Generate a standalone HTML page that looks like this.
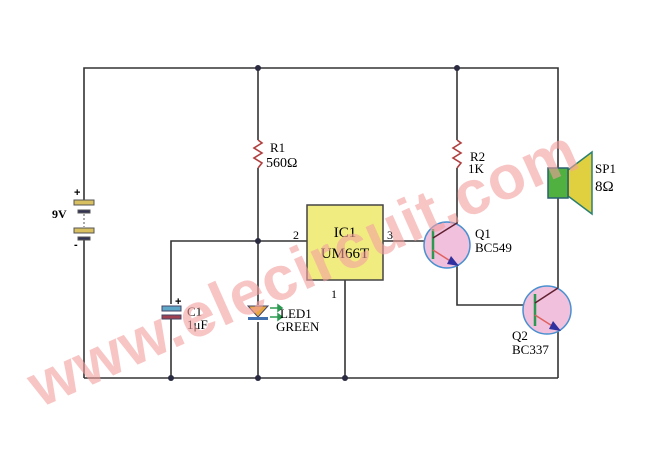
<!DOCTYPE html>
<html><head><style>
body{margin:0;background:#fff;}
svg{display:block;font-family:"Liberation Serif",serif;}
</style></head><body>
<svg width="660" height="456" viewBox="0 0 660 456" xmlns="http://www.w3.org/2000/svg">
<g stroke="#333" stroke-width="1.6" fill="none">
<polyline points="84,200 84,68 558,68 558,168"/>
<line x1="84" y1="240" x2="84" y2="378"/>
<line x1="84" y1="378" x2="558" y2="378"/>
<line x1="258" y1="68" x2="258" y2="140"/>
<line x1="258" y1="168" x2="258" y2="305"/>
<line x1="258" y1="322" x2="258" y2="378"/>
<polyline points="307,241 171,241 171,304"/>
<line x1="171" y1="318" x2="171" y2="378"/>
<line x1="345" y1="280" x2="345" y2="378"/>
<line x1="383" y1="241" x2="433" y2="241"/>
<line x1="457" y1="68" x2="457" y2="140"/>
<line x1="457" y1="168" x2="457" y2="228"/>
<polyline points="457,258 457,305 537,305"/>
<line x1="558" y1="198" x2="558" y2="292"/>
<line x1="558" y1="328" x2="558" y2="378"/>
</g>
<g stroke="#b04040" stroke-width="1.6" fill="none">
<polyline points="258,140 262,143 254,148 262,153 254,158 262,163 258,168"/>
<polyline points="457,140 461,143 453,148 461,153 453,158 461,163 457,168"/>
</g>
<g fill="#2a2a40">
<circle cx="258" cy="68" r="3"/><circle cx="457" cy="68" r="3"/>
<circle cx="258" cy="241" r="3"/><circle cx="171" cy="378" r="3"/>
<circle cx="258" cy="378" r="3"/><circle cx="345" cy="378" r="3"/>
</g>
<g stroke="#555" stroke-width="1">
<rect x="74" y="200" width="20" height="5" fill="#d8c060"/>
<rect x="78" y="210" width="12" height="3" fill="#335"/>
<rect x="74" y="228" width="20" height="5" fill="#d8c060"/>
<rect x="78" y="237" width="12" height="3" fill="#335"/>
</g>
<line x1="84" y1="214" x2="84" y2="227" stroke="#555" stroke-dasharray="2,2"/>
<text x="74" y="196" font-size="11" font-weight="bold" font-family="Liberation Sans">+</text>
<text x="74" y="248" font-size="11" font-weight="bold" font-family="Liberation Sans">-</text>
<text x="52" y="218" font-size="12" font-weight="bold">9V</text>
<rect x="162" y="306" width="19" height="5" fill="#60a8c8" stroke="#446"/>
<rect x="162" y="315" width="19" height="4" fill="#a04050" stroke="#446"/>
<text x="175" y="305" font-size="11" font-weight="bold" font-family="Liberation Sans">+</text>
<text x="187" y="316" font-size="13">C1</text>
<text x="187" y="329" font-size="13">1μF</text>
<polygon points="248,306 268,306 258,317" fill="#e8a840" stroke="#446"/>
<rect x="248" y="317" width="20" height="3" fill="#4070b0"/>
<g stroke="#2a9a50" stroke-width="1.5" fill="#2a9a50">
<line x1="270" y1="308" x2="278" y2="308"/><polygon points="278,305 282,308 278,311"/>
<line x1="270" y1="317" x2="278" y2="317"/><polygon points="278,314 282,317 278,320"/>
</g>
<text x="280" y="318" font-size="13">LED1</text>
<text x="276" y="331" font-size="13">GREEN</text>
<rect x="307" y="205" width="76" height="75" fill="#f0ec80" stroke="#444" stroke-width="1.5"/>
<text x="345" y="237" font-size="15" text-anchor="middle">IC1</text>
<text x="345" y="258" font-size="15" text-anchor="middle">UM66T</text>
<text x="293" y="239" font-size="12">2</text>
<text x="387" y="239" font-size="12">3</text>
<text x="331" y="298" font-size="12">1</text>
<text x="470" y="161" font-size="13">R2</text>
<text x="468" y="173" font-size="13">1K</text>
<text x="270" y="152" font-size="13">R1</text>
<text x="266" y="167" font-size="14">560Ω</text>
<circle cx="447" cy="245" r="23" fill="#f0c0dc" stroke="#4a90d0" stroke-width="1.5"/>
<line x1="433" y1="229" x2="433" y2="259" stroke="#2a9a50" stroke-width="2.5"/>
<line x1="433" y1="238" x2="457" y2="223" stroke="#602030" stroke-width="1.5"/>
<line x1="433" y1="250" x2="455" y2="264" stroke="#e06060" stroke-width="1.5"/>
<polygon points="451,256 459,266 447,264" fill="#3030a0"/>
<text x="475" y="238" font-size="13">Q1</text>
<text x="475" y="252" font-size="13">BC549</text>
<circle cx="547" cy="310" r="24" fill="#f0c0dc" stroke="#4a90d0" stroke-width="1.5"/>
<line x1="535" y1="294" x2="535" y2="326" stroke="#2a9a50" stroke-width="2.5"/>
<line x1="535" y1="303" x2="558" y2="288" stroke="#602030" stroke-width="1.5"/>
<line x1="535" y1="315" x2="557" y2="329" stroke="#e06060" stroke-width="1.5"/>
<polygon points="553,321 561,331 549,329" fill="#3030a0"/>
<text x="512" y="340" font-size="13">Q2</text>
<text x="512" y="354" font-size="13">BC337</text>
<polygon points="568,170 592,152 592,214 568,196" fill="#e0d040" stroke="#2a8070" stroke-width="1.5"/>
<rect x="548" y="168" width="20" height="30" fill="#50b040" stroke="#2a6070" stroke-width="1.5"/>
<text x="595" y="173" font-size="13">SP1</text>
<text x="595" y="191" font-size="15">8Ω</text>
<text x="0" y="0" font-family="Liberation Sans" font-size="62" font-weight="bold" fill="#f4a0a0" opacity="0.6" transform="translate(40,408) rotate(-24)" letter-spacing="1">www.elecircuit.com</text>
</svg>
</body></html>
